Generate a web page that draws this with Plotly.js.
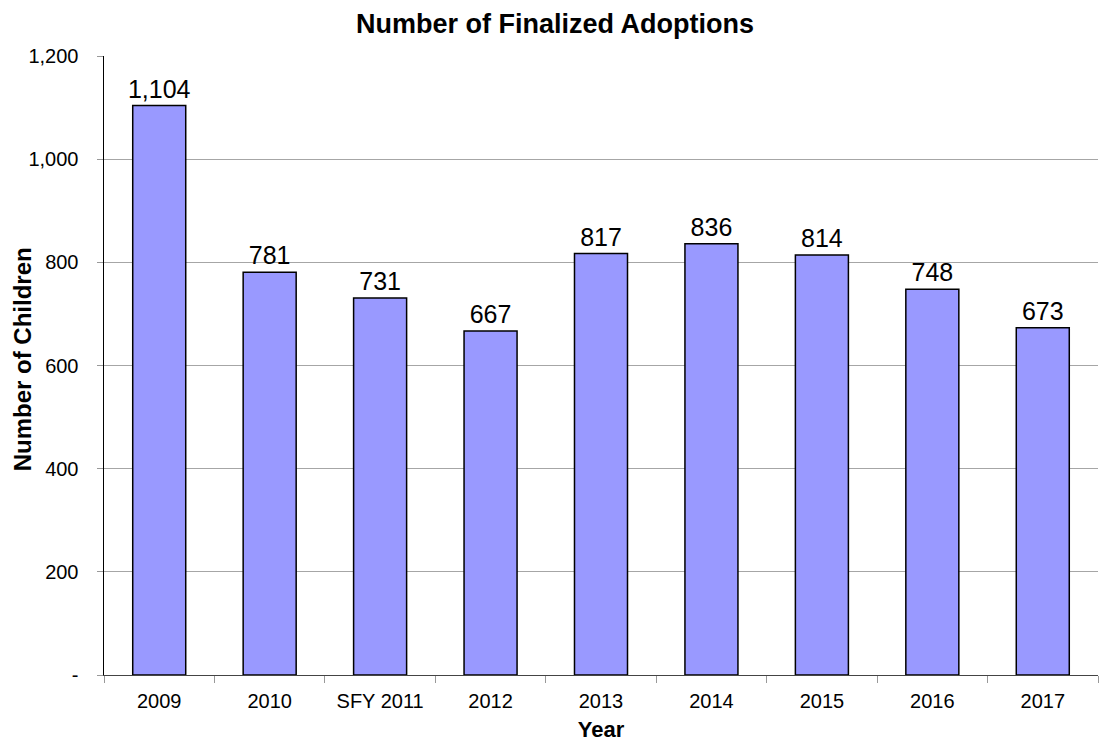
<!DOCTYPE html>
<html><head><meta charset="utf-8">
<script src="https://cdn.plot.ly/plotly-3.0.1.min.js"></script>
<style>html,body{margin:0;padding:0;background:#fff}#chart{width:1099px;height:744px}</style>
</head><body><div id="chart"></div>
<script>
const years = ["2009","2010","SFY 2011","2012","2013","2014","2015","2016","2017"];
const adoptions = [1104,781,731,667,817,836,814,748,673];
const yTickVals = [0,200,400,600,800,1000,1200];
const yTickText = ["-","200","400","600","800","1,000","1,200"];
const fmt = v => v.toLocaleString("en-US");
const trace = {
  type:"bar", x:years, y:adoptions,
  text:adoptions.map(fmt), textposition:"outside", cliponaxis:false, constraintext:"none",
  textfont:{family:"Liberation Sans, Arial, sans-serif", size:25, color:"#000"},
  marker:{color:"#9999FF", line:{color:"#000", width:1.5}},
  hoverinfo:"none"
};
const layout = {
  width:1099, height:744,
  margin:{l:104, r:1, t:56, b:69},
  paper_bgcolor:"#fff", plot_bgcolor:"#fff",
  font:{family:"Liberation Sans, Arial, sans-serif", color:"#000"},
  bargap:0.52,
  showlegend:false,
  title:{text:"<b>Number of Finalized Adoptions</b>", x:0.505, xref:"container", yref:"container", y:0.968, yanchor:"middle", font:{size:27, color:"#000"}},
  xaxis:{type:"category", tickson:"boundaries", ticks:"outside", ticklen:7, tickcolor:"#999",
    showline:true, linecolor:"#444", linewidth:1, showgrid:false,
    tickfont:{size:20}, ticklabelstandoff:8, title:{text:"<b>Year</b>", font:{size:22}, standoff:10}},
  yaxis:{range:[0,1200], tickvals:yTickVals, ticktext:yTickText, ticks:"outside", ticklen:6, tickcolor:"#999",
    showline:true, linecolor:"#000", linewidth:1.5, showgrid:true, gridcolor:"#a6a6a6", gridwidth:1,
    zeroline:false, tickfont:{size:20}, ticklabelstandoff:14},
  annotations:[{text:"<b>Number of Children</b>", xref:"paper", yref:"paper", x:0, y:0.51,
    xanchor:"center", yanchor:"middle", xshift:-82, textangle:-90, showarrow:false, font:{size:24, color:"#000"}}]
};
Plotly.newPlot("chart",[trace],layout,{displayModeBar:false,staticPlot:true});
</script></body></html>
